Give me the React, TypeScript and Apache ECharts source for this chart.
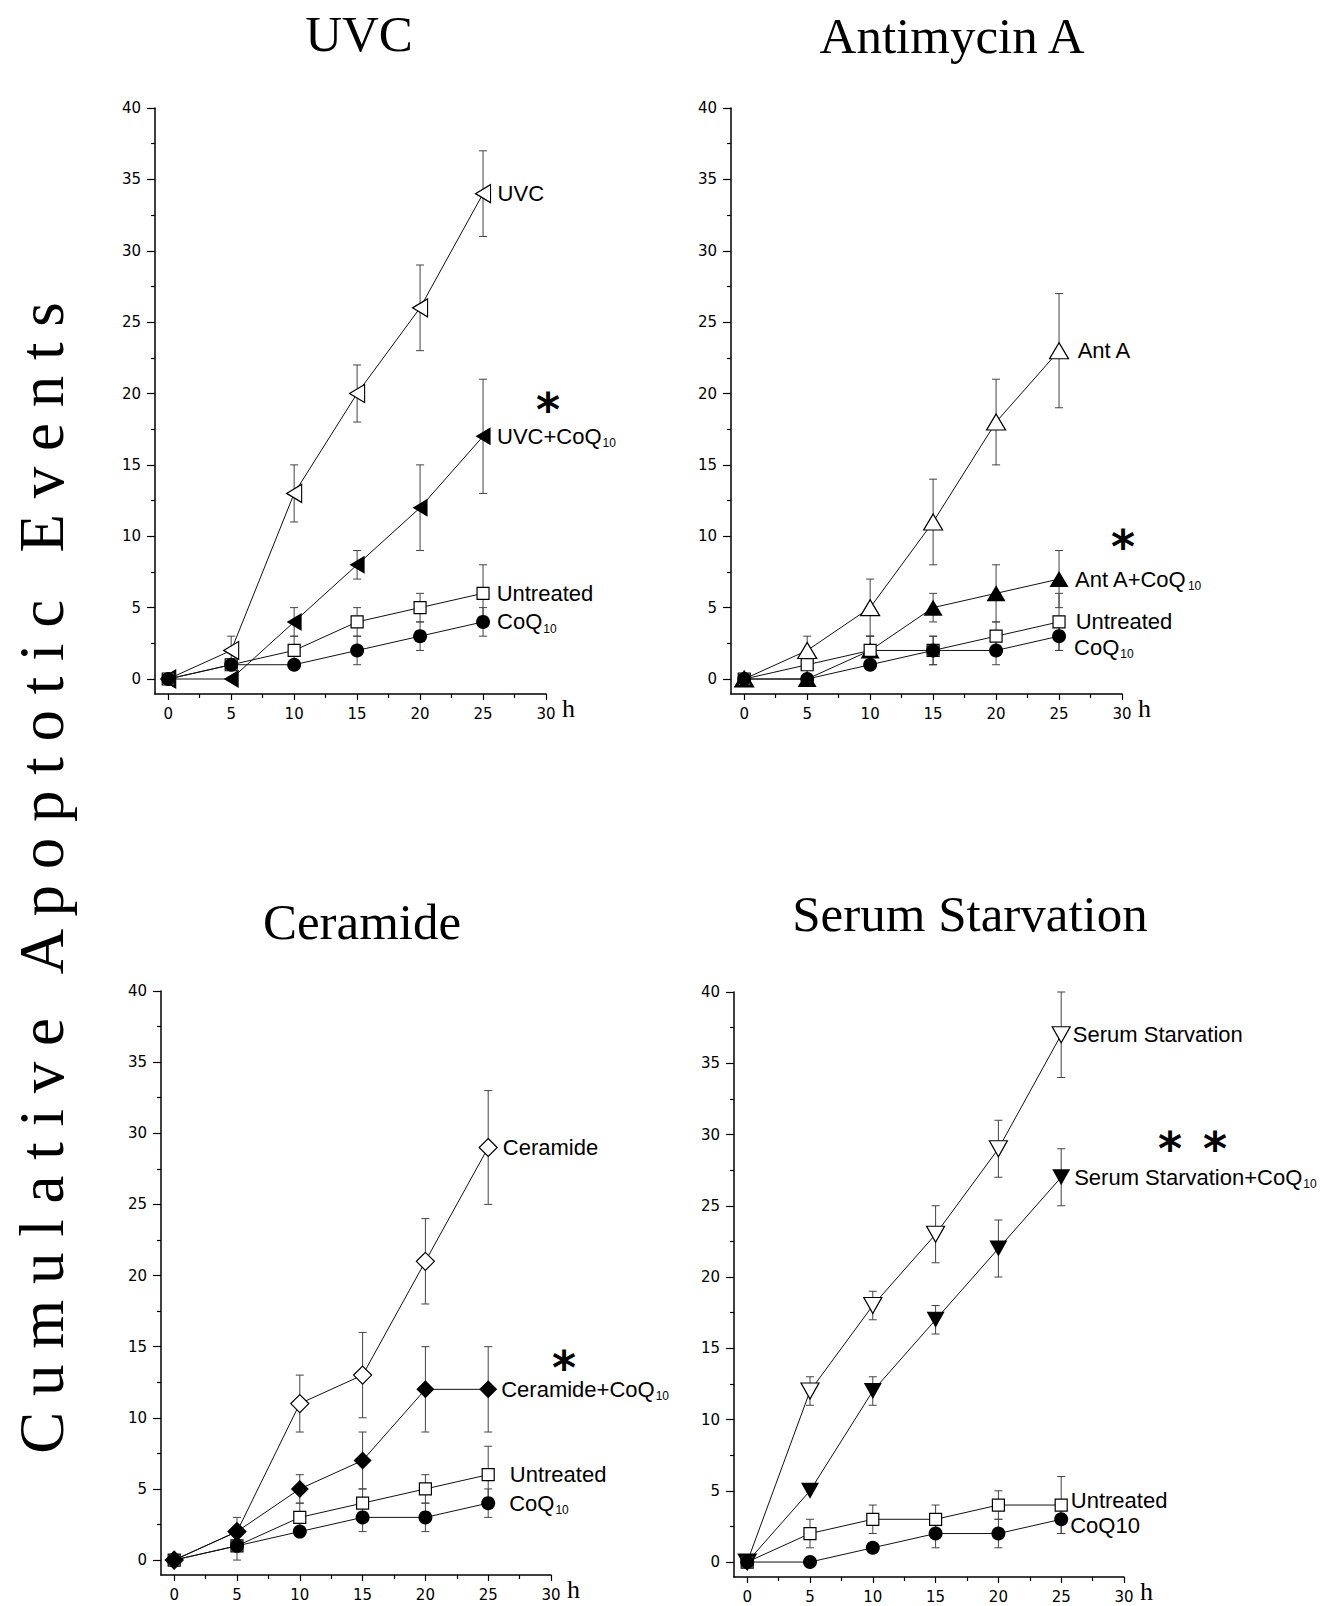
import React, { useEffect, useRef } from "react";
import * as echarts from "echarts";

// ---------- data ----------
const hours = [0, 5, 10, 15, 20, 25];
const xMajorTicks = [0, 5, 10, 15, 20, 25, 30];
const xMinorTicks = [2.5, 7.5, 12.5, 17.5, 22.5, 27.5];
const yMajorTicks = [0, 5, 10, 15, 20, 25, 30, 35, 40];
const yMinorTicks = [2.5, 7.5, 12.5, 17.5, 22.5, 27.5, 32.5, 37.5];

// UVC
const uvcAgent = [0, 2, 13, 20, 26, 34];
const uvcAgentErr = [0, 1, 2, 2, 3, 3];
const uvcAgentCoq = [0, 0, 4, 8, 12, 17];
const uvcAgentCoqErr = [0, 0, 1, 1, 3, 4];
const uvcUntreated = [0, 1, 2, 4, 5, 6];
const uvcUntreatedErr = [0, 0, 1, 1, 1, 2];
const uvcCoq = [0, 1, 1, 2, 3, 4];
const uvcCoqErr = [0, 0, 0, 1, 1, 1];

// Antimycin A
const antAgent = [0, 2, 5, 11, 18, 23];
const antAgentErr = [0, 1, 2, 3, 3, 4];
const antAgentCoq = [0, 0, 2, 5, 6, 7];
const antAgentCoqErr = [0, 0, 1, 1, 2, 2];
const antUntreated = [0, 1, 2, 2, 3, 4];
const antUntreatedErr = [0, 1, 1, 1, 1, 2];
const antCoq = [0, 0, 1, 2, 2, 3];
const antCoqErr = [0, 0, 0, 1, 1, 1];

// Ceramide
const cerAgent = [0, 2, 11, 13, 21, 29];
const cerAgentErr = [0, 1, 2, 3, 3, 4];
const cerAgentCoq = [0, 2, 5, 7, 12, 12];
const cerAgentCoqErr = [0, 0, 1, 2, 3, 3];
const cerUntreated = [0, 1, 3, 4, 5, 6];
const cerUntreatedErr = [0, 0, 1, 1, 1, 2];
const cerCoq = [0, 1, 2, 3, 3, 4];
const cerCoqErr = [0, 1, 0, 1, 1, 1];

// Serum Starvation
const serAgent = [0, 12, 18, 23, 29, 37];
const serAgentErr = [0, 1, 1, 2, 2, 3];
const serAgentCoq = [0, 5, 12, 17, 22, 27];
const serAgentCoqErr = [0, 0, 1, 1, 2, 2];
const serUntreated = [0, 2, 3, 3, 4, 4];
const serUntreatedErr = [0, 1, 1, 1, 1, 2];
const serCoq = [0, 0, 1, 2, 2, 3];
const serCoqErr = [0, 0, 0, 1, 1, 1];

// ---------- styles ----------
const FONT_SANS = '"Liberation Sans", Arial, sans-serif';
const FONT_SERIF = '"Liberation Serif", "Times New Roman", serif';
const FONT_TICK = '"DejaVu Sans", sans-serif';
const LEFT_TRI = "path://M10,0L10,10L0,5Z";
const UP_TRI = "path://M5,0L10,9L0,9Z";
const DOWN_TRI = "path://M0,0L10,0L5,9Z";
const X_MIN = -1.05;
const Y_MIN = -1.05;

type SeriesSpec = {
  values: number[];
  err: number[];
  symbol: string;
  size: number[];
  filled: boolean;
  label: string;
  gap: number;
  dy: number;
};

type Panel = {
  title: string;
  titleX: number;
  titleY: number;
  grid: { left: number; top: number; width: number; height: number };
  series: SeriesSpec[];
  stars: number[][];
};

const CIRCLE = [14, 14];
const SQUARE = [12, 12];
const LTRI = [15, 18];
const UTRI = [19, 16];
const DTRI = [18, 16];
const DIAM = [18, 18];

const panels: Panel[] = [
  {
    title: "UVC",
    titleX: 359,
    titleY: 34,
    grid: { left: 155, top: 108, width: 391, height: 586 },
    series: [
      { values: uvcAgent, err: uvcAgentErr, symbol: LEFT_TRI, size: LTRI, filled: false, label: "UVC", gap: 14, dy: 0 },
      { values: uvcAgentCoq, err: uvcAgentCoqErr, symbol: LEFT_TRI, size: LTRI, filled: true, label: "UVC+CoQ{s|10}", gap: 14, dy: 0 },
      { values: uvcUntreated, err: uvcUntreatedErr, symbol: "rect", size: SQUARE, filled: false, label: "Untreated", gap: 13, dy: 0 },
      { values: uvcCoq, err: uvcCoqErr, symbol: "circle", size: CIRCLE, filled: true, label: "CoQ{s|10}", gap: 14, dy: 0 },
    ],
    stars: [[548, 399]],
  },
  {
    title: "Antimycin A",
    titleX: 952,
    titleY: 36,
    grid: { left: 731, top: 108, width: 391, height: 586 },
    series: [
      { values: antAgent, err: antAgentErr, symbol: UP_TRI, size: UTRI, filled: false, label: "Ant A", gap: 18, dy: 0 },
      { values: antAgentCoq, err: antAgentCoqErr, symbol: UP_TRI, size: UTRI, filled: true, label: "Ant A+CoQ{s|10}", gap: 16, dy: 0 },
      { values: antUntreated, err: antUntreatedErr, symbol: "rect", size: SQUARE, filled: false, label: "Untreated", gap: 16, dy: 0 },
      { values: antCoq, err: antCoqErr, symbol: "circle", size: CIRCLE, filled: true, label: "CoQ{s|10}", gap: 15, dy: 11 },
    ],
    stars: [[1123, 536]],
  },
  {
    title: "Ceramide",
    titleX: 362,
    titleY: 922,
    grid: { left: 161, top: 991, width: 390, height: 584 },
    series: [
      { values: cerAgent, err: cerAgentErr, symbol: "diamond", size: DIAM, filled: false, label: "Ceramide", gap: 14, dy: 0 },
      { values: cerAgentCoq, err: cerAgentCoqErr, symbol: "diamond", size: DIAM, filled: true, label: "Ceramide+CoQ{s|10}", gap: 13, dy: 0 },
      { values: cerUntreated, err: cerUntreatedErr, symbol: "rect", size: SQUARE, filled: false, label: "Untreated", gap: 21, dy: 0 },
      { values: cerCoq, err: cerCoqErr, symbol: "circle", size: CIRCLE, filled: true, label: "CoQ{s|10}", gap: 21, dy: 0 },
    ],
    stars: [[564, 1357]],
  },
  {
    title: "Serum Starvation",
    titleX: 970,
    titleY: 914,
    grid: { left: 734, top: 992, width: 390, height: 585 },
    series: [
      { values: serAgent, err: serAgentErr, symbol: DOWN_TRI, size: DTRI, filled: false, label: "Serum Starvation", gap: 11, dy: 0 },
      { values: serAgentCoq, err: serAgentCoqErr, symbol: DOWN_TRI, size: DTRI, filled: true, label: "Serum Starvation+CoQ{s|10}", gap: 13, dy: 0 },
      { values: serUntreated, err: serUntreatedErr, symbol: "rect", size: SQUARE, filled: false, label: "Untreated", gap: 9, dy: -5 },
      { values: serCoq, err: serCoqErr, symbol: "circle", size: CIRCLE, filled: true, label: "CoQ10", gap: 9, dy: 6 },
    ],
    stars: [
      [1170, 1138],
      [1215, 1138],
    ],
  },
];

const Y_TITLE = "C u m u l a t i v e   A p o p t o t i c   E v e n t s";

function buildOption() {
  const grid: any[] = [];
  const xAxis: any[] = [];
  const yAxis: any[] = [];
  const series: any[] = [];
  const graphic: any[] = [];

  const tickLine = { color: "#000", width: 1.2 };
  const axisLineStyle = { color: "#000", width: 1.5 };

  panels.forEach((p, i) => {
    grid.push({ ...p.grid, containLabel: false, outerBoundsMode: "none" });

    xAxis.push({
      gridIndex: i,
      type: "value",
      min: X_MIN,
      max: 30,
      position: "bottom",
      axisLine: { show: true, onZero: false, lineStyle: axisLineStyle },
      axisTick: { show: true, length: 6, customValues: xMajorTicks, lineStyle: tickLine },
      axisLabel: {
        show: true,
        customValues: xMajorTicks,
        margin: 12,
        fontFamily: FONT_TICK,
        fontSize: 15,
        color: "#000",
      },
      splitLine: { show: false },
      name: "h",
      nameLocation: "end",
      nameGap: 16,
      nameTextStyle: {
        fontFamily: FONT_SERIF,
        fontSize: 26,
        lineHeight: 22,
        color: "#000",
        verticalAlign: "top",
        padding: [3, 0, 0, 0],
      },
    });
    xAxis.push({
      gridIndex: i,
      type: "value",
      min: X_MIN,
      max: 30,
      position: "bottom",
      axisLine: { show: false, onZero: false },
      axisTick: { show: true, length: 4, customValues: xMinorTicks, lineStyle: tickLine },
      axisLabel: { show: false },
      splitLine: { show: false },
    });
    yAxis.push({
      gridIndex: i,
      type: "value",
      min: Y_MIN,
      max: 40,
      position: "left",
      axisLine: { show: true, onZero: false, lineStyle: axisLineStyle },
      axisTick: { show: true, length: 8, customValues: yMajorTicks, lineStyle: tickLine },
      axisLabel: {
        show: true,
        customValues: yMajorTicks,
        margin: 14,
        fontFamily: FONT_TICK,
        fontSize: 15,
        color: "#000",
      },
      splitLine: { show: false },
    });
    yAxis.push({
      gridIndex: i,
      type: "value",
      min: Y_MIN,
      max: 40,
      position: "left",
      axisLine: { show: false, onZero: false },
      axisTick: { show: true, length: 4, customValues: yMinorTicks, lineStyle: tickLine },
      axisLabel: { show: false },
      splitLine: { show: false },
    });

    // error bars
    p.series.forEach((s) => {
      series.push({
        type: "custom",
        xAxisIndex: 2 * i,
        yAxisIndex: 2 * i,
        z: 2,
        silent: true,
        clip: false,
        data: hours.map((h, j) => [h, s.values[j], s.err[j]]),
        renderItem: (params: any, api: any) => {
          const e = api.value(2);
          if (!e) return null;
          const x = api.value(0);
          const y = api.value(1);
          const top = api.coord([x, y + e]);
          const bot = api.coord([x, y - e]);
          const cw = 4;
          const st = { stroke: "#444", lineWidth: 1 };
          return {
            type: "group",
            children: [
              { type: "line", shape: { x1: top[0], y1: top[1], x2: bot[0], y2: bot[1] }, style: st },
              { type: "line", shape: { x1: top[0] - cw, y1: top[1], x2: top[0] + cw, y2: top[1] }, style: st },
              { type: "line", shape: { x1: bot[0] - cw, y1: bot[1], x2: bot[0] + cw, y2: bot[1] }, style: st },
            ],
          };
        },
      });
    });

    // lines + markers + end labels
    p.series.forEach((s) => {
      const last = hours.length - 1;
      series.push({
        type: "line",
        xAxisIndex: 2 * i,
        yAxisIndex: 2 * i,
        z: 3,
        clip: false,
        symbol: s.symbol,
        symbolSize: s.size,
        showSymbol: true,
        lineStyle: { color: "#111", width: 1 },
        itemStyle: {
          color: s.filled ? "#000" : "#fff",
          borderColor: "#000",
          borderWidth: s.filled ? 0 : 1.2,
        },
        label: { show: false },
        emphasis: { disabled: true },
        data: hours.map((h, j) =>
          j === last
            ? {
                value: [h, s.values[j]],
                label: {
                  show: true,
                  position: "right",
                  distance: s.gap - s.size[0] / 2,
                  offset: [0, s.dy],
                  formatter: s.label,
                  fontFamily: FONT_SANS,
                  fontSize: 22,
                  lineHeight: 26,
                  color: "#000",
                  rich: {
                    s: {
                      fontFamily: FONT_SANS,
                      fontSize: 12,
                      lineHeight: 2,
                      verticalAlign: "bottom",
                      padding: [0, 0, 0, 1],
                      color: "#000",
                    },
                  },
                },
              }
            : [h, s.values[j]]
        ),
      });
    });

    graphic.push({
      type: "text",
      x: p.titleX,
      y: p.titleY,
      style: {
        text: p.title,
        fontFamily: FONT_SERIF,
        fontSize: 51,
        fill: "#000",
        align: "center",
        verticalAlign: "middle",
        textAlign: "center",
        textVerticalAlign: "middle",
      },
    });

    p.stars.forEach((st) => {
      graphic.push({
        type: "text",
        x: st[0],
        y: st[1] + 11,
        style: {
          text: "*",
          fontFamily: '"DejaVu Sans", sans-serif',
          fontWeight: "bold",
          fontSize: 46,
          lineHeight: 20,
          fill: "#000",
          align: "center",
          verticalAlign: "middle",
          textAlign: "center",
          textVerticalAlign: "middle",
        },
      });
    });
  });

  graphic.push({
    type: "text",
    x: 42,
    y: 878,
    rotation: Math.PI / 2,
    style: {
      text: Y_TITLE,
      fontFamily: FONT_SERIF,
      fontSize: 63,
      fill: "#000",
      align: "center",
      verticalAlign: "middle",
      textAlign: "center",
      textVerticalAlign: "middle",
    },
  });

  return {
    animation: false,
    backgroundColor: "#fff",
    grid,
    xAxis,
    yAxis,
    series,
    graphic,
  };
}

export default function App() {
  const ref = useRef<HTMLDivElement>(null);
  useEffect(() => {
    if (!ref.current) return;
    const chart = echarts.init(ref.current, undefined, { renderer: "svg" });
    chart.setOption(buildOption() as any);
    return () => chart.dispose();
  }, []);
  return (
    <div
      ref={ref}
      style={{ position: "absolute", left: 0, top: 0, width: 1322, height: 1606, background: "#fff" }}
    />
  );
}
